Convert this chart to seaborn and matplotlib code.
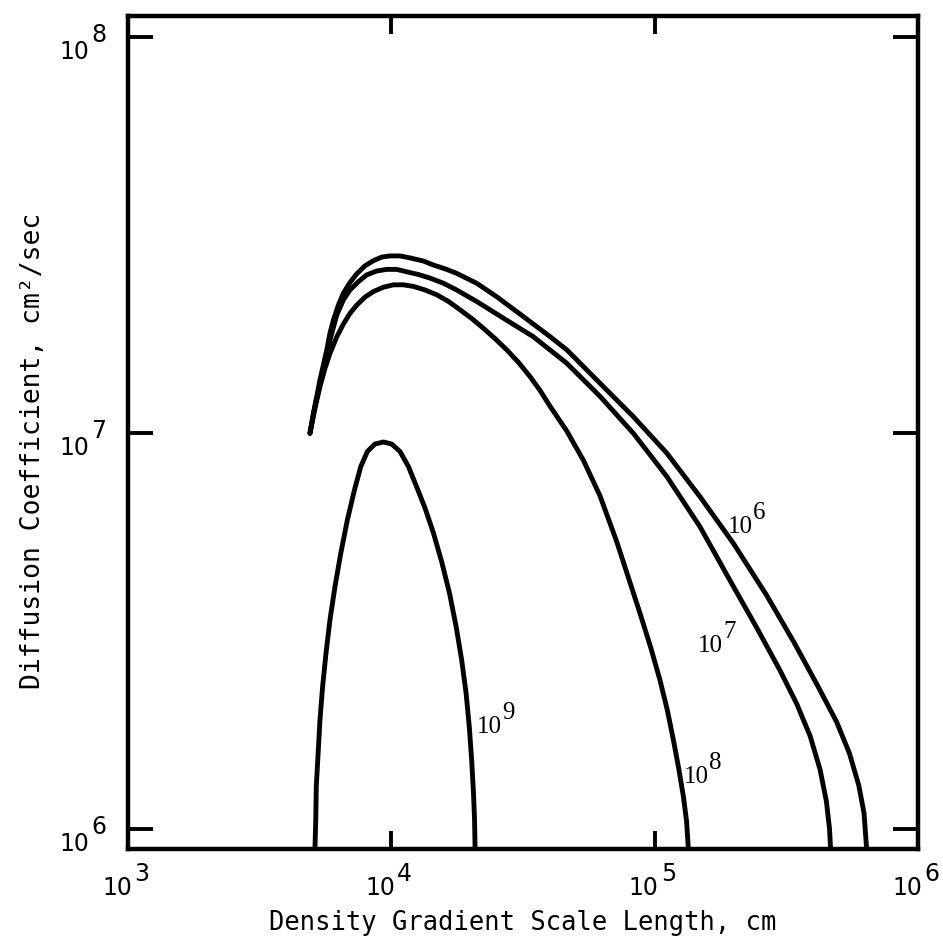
import numpy as np
import pandas as pd
import matplotlib
matplotlib.use("Agg")
import matplotlib.pyplot as plt
import seaborn as sns
from matplotlib.ticker import FixedLocator, NullFormatter, NullLocator

# ---- data: log10 of (length, diffusion coefficient) values ----
# curve labelled 10^6
c6_logx = [3.691, 3.704, 3.717, 3.729, 3.742, 3.755, 3.767, 3.780, 3.799, 3.818, 3.843, 3.869,
           3.900, 3.932, 3.963, 3.995, 4.033, 4.071, 4.122, 4.160, 4.210, 4.248, 4.324, 4.400,
           4.501, 4.603, 4.666, 4.793, 4.919, 5.046, 5.172, 5.299, 5.425, 5.530, 5.620, 5.691,
           5.740, 5.775, 5.795, 5.805]
c6_logy = [6.999, 7.050, 7.092, 7.134, 7.172, 7.210, 7.252, 7.285, 7.323, 7.353, 7.380, 7.402,
           7.422, 7.435, 7.444, 7.447, 7.447, 7.442, 7.434, 7.424, 7.413, 7.403, 7.378, 7.344,
           7.294, 7.243, 7.210, 7.125, 7.041, 6.949, 6.839, 6.721, 6.590, 6.470, 6.360, 6.270,
           6.190, 6.110, 6.040, 5.949]
# curve labelled 10^7
c7_logx = [3.691, 3.710, 3.729, 3.748, 3.767, 3.793, 3.818, 3.843, 3.875, 3.906, 3.945, 3.982,
           4.020, 4.058, 4.103, 4.147, 4.198, 4.248, 4.324, 4.425, 4.539, 4.666, 4.793, 4.919,
           5.046, 5.172, 5.299, 5.390, 5.476, 5.540, 5.590, 5.628, 5.652, 5.664, 5.668]
c7_logy = [6.999, 7.067, 7.125, 7.176, 7.235, 7.298, 7.336, 7.361, 7.382, 7.399, 7.409, 7.413,
           7.413, 7.407, 7.400, 7.391, 7.378, 7.361, 7.332, 7.290, 7.243, 7.176, 7.092, 6.999,
           6.890, 6.763, 6.612, 6.505, 6.400, 6.315, 6.235, 6.150, 6.070, 6.000, 5.949]
# curve labelled 10^8
c8_logx = [3.691, 3.710, 3.729, 3.748, 3.767, 3.793, 3.818, 3.843, 3.869, 3.900, 3.932, 3.970,
           4.008, 4.046, 4.084, 4.128, 4.172, 4.217, 4.261, 4.305, 4.350, 4.394, 4.438, 4.483,
           4.527, 4.565, 4.603, 4.666, 4.730, 4.793, 4.856, 4.900, 4.944, 4.985, 5.020, 5.048,
           5.071, 5.092, 5.109, 5.121, 5.128]
c8_logy = [6.999, 7.062, 7.117, 7.163, 7.201, 7.243, 7.275, 7.302, 7.323, 7.343, 7.357, 7.368,
           7.374, 7.374, 7.370, 7.361, 7.349, 7.332, 7.311, 7.289, 7.264, 7.238, 7.210, 7.178,
           7.142, 7.107, 7.067, 7.005, 6.930, 6.840, 6.725, 6.635, 6.545, 6.458, 6.376, 6.300,
           6.225, 6.150, 6.082, 6.020, 5.949]
# curve labelled 10^9
c9_logx = [3.710, 3.713, 3.715, 3.722, 3.729, 3.739, 3.752, 3.767, 3.786, 3.808, 3.833, 3.860,
           3.884, 3.909, 3.938, 3.970, 4.001, 4.033, 4.065, 4.096, 4.128, 4.160, 4.191, 4.221,
           4.246, 4.267, 4.284, 4.296, 4.305, 4.312, 4.316, 4.318]
c9_logy = [5.951, 6.023, 6.107, 6.191, 6.275, 6.359, 6.444, 6.528, 6.612, 6.696, 6.780, 6.856,
           6.915, 6.953, 6.972, 6.977, 6.972, 6.953, 6.915, 6.864, 6.810, 6.747, 6.675, 6.595,
           6.511, 6.427, 6.342, 6.258, 6.174, 6.090, 6.023, 5.951]

curve_names = ["10^6", "10^7", "10^8", "10^9"]
curve_label_exp = ["6", "7", "8", "9"]
label_logx = [5.279, 5.165, 5.112, 4.325]
label_logy = [6.747, 6.447, 6.116, 6.242]

x_ticks = [1e3, 1e4, 1e5, 1e6]
y_ticks = [1e6, 1e7, 1e8]
x_title = "Density Gradient Scale Length, cm"
y_title = "Diffusion Coefficient, cm\u00b2/sec"

frames = []
for name, lx, ly in zip(curve_names,
                        [c6_logx, c7_logx, c8_logx, c9_logx],
                        [c6_logy, c7_logy, c8_logy, c9_logy]):
    frames.append(pd.DataFrame({"L": np.power(10.0, lx), "D": np.power(10.0, ly), "curve": name}))
df = pd.concat(frames, ignore_index=True)

sns.set_theme(style="white")
plt.rcParams["font.family"] = ["DejaVu Sans"]
plt.rcParams["text.color"] = "black"

PT = 0.72  # points per pixel at dpi 100

fig = plt.figure(figsize=(9.43, 9.38), dpi=100)
ax = fig.add_axes([128/943, 1 - 849/938, (918-128)/943, (849-16)/938])

sns.lineplot(data=df, x="L", y="D", hue="curve", units="curve", estimator=None, sort=False,
             palette=["black"]*4, linewidth=3.5, legend=False, ax=ax,
             solid_joinstyle="round", solid_capstyle="round")

ax.set_xscale("log")
ax.set_yscale("log")
ax.set_xlim(1e3, 1e6)
ax.set_ylim(10**5.949, 10**8.053)

for s in ax.spines.values():
    s.set_linewidth(3.2)
    s.set_color("black")

ax.xaxis.set_major_locator(FixedLocator(x_ticks))
ax.yaxis.set_major_locator(FixedLocator(y_ticks))
ax.xaxis.set_minor_locator(NullLocator())
ax.yaxis.set_minor_locator(NullLocator())
ax.xaxis.set_major_formatter(NullFormatter())
ax.yaxis.set_major_formatter(NullFormatter())
ax.tick_params(axis="x", which="major", direction="in", length=13, width=2.8,
               top=True, bottom=True, colors="black")
ax.tick_params(axis="y", which="major", direction="in", length=18, width=2.8,
               left=True, right=True, colors="black")

# tick labels "10" with a full-size raised exponent, as in the original
tick_fs = 17
for v in y_ticks:
    e = int(round(np.log10(v)))
    ax.annotate("10", xy=(0, v), xycoords=ax.get_yaxis_transform(),
                xytext=(-39*PT, -22*PT), textcoords="offset points",
                ha="right", va="baseline", fontsize=tick_fs, color="black")
    ax.annotate(str(e), xy=(0, v), xycoords=ax.get_yaxis_transform(),
                xytext=(-37*PT, -5*PT), textcoords="offset points",
                ha="left", va="baseline", fontsize=tick_fs, color="black")
for v in x_ticks:
    e = int(round(np.log10(v)))
    ax.annotate("10", xy=(v, 0), xycoords=ax.get_xaxis_transform(),
                xytext=(4*PT, -46*PT), textcoords="offset points",
                ha="right", va="baseline", fontsize=tick_fs, color="black",
                annotation_clip=False)
    ax.annotate(str(e), xy=(v, 0), xycoords=ax.get_xaxis_transform(),
                xytext=(6*PT, -32*PT), textcoords="offset points",
                ha="left", va="baseline", fontsize=tick_fs, color="black",
                annotation_clip=False)

ax.set_xlabel(x_title, family="DejaVu Sans Mono", fontsize=18.4, color="black")
ax.set_ylabel(y_title, family="DejaVu Sans Mono", fontsize=19, color="black")
ax.xaxis.set_label_coords(0.5, (849-910)/833)
ax.yaxis.set_label_coords((46-128)/790, (849-451)/833)

# curve labels
for e, lx, ly in zip(curve_label_exp, label_logx, label_logy):
    ax.annotate("10", xy=(10**lx, 10**ly), xytext=(0, 0), textcoords="offset points",
                ha="left", va="baseline", fontsize=18, family="Liberation Serif", color="black")
    ax.annotate(e, xy=(10**lx, 10**ly), xytext=(25*PT, 14*PT), textcoords="offset points",
                ha="left", va="baseline", fontsize=18, family="Liberation Serif", color="black")

fig.savefig("out.png", dpi=100, facecolor="white")
